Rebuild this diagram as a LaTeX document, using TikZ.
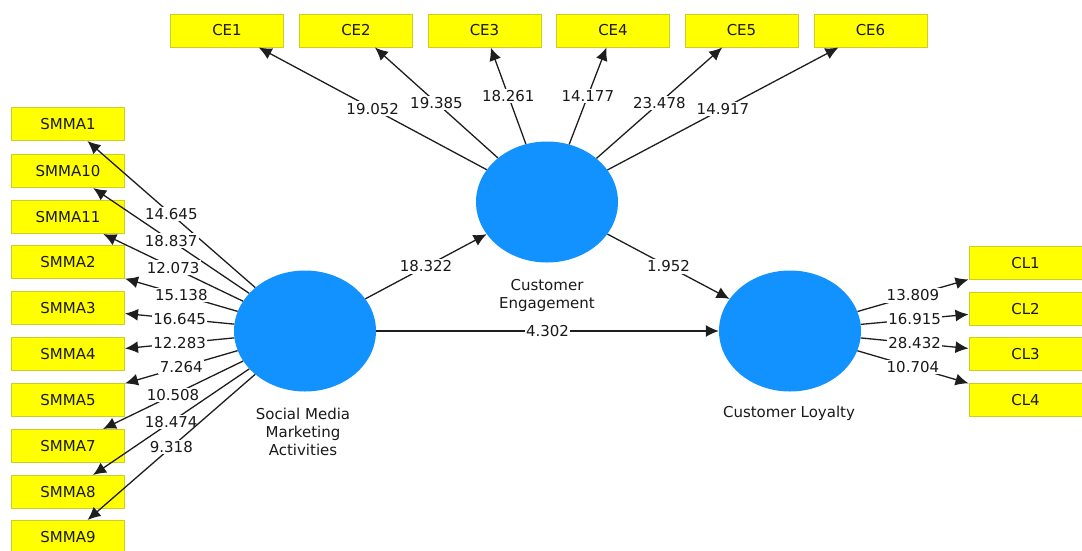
\documentclass[tikz,border=0pt]{standalone}
\usepackage{fontspec}
\setmainfont{DejaVu Sans}
\usepackage{tikz}
\usetikzlibrary{shapes,arrows.meta,positioning,calc}
\definecolor{latent}{RGB}{18,146,255}
\definecolor{itemfill}{RGB}{255,255,0}
\definecolor{itemline}{RGB}{205,205,40}
\definecolor{pathline}{RGB}{30,30,30}
\begin{document}
\begin{tikzpicture}[x=1pt, y=-1pt,
    every node/.style={font=\fontsize{15}{18}\selectfont, text=black!90},
    item/.style={draw=itemline, fill=itemfill, line width=1pt, minimum width=113pt, minimum height=33pt, inner sep=0pt},
    construct/.style={ellipse, fill=latent, minimum width=142pt, minimum height=121pt, inner sep=0pt},
    load/.style={draw=pathline, line width=1.3pt, -{Latex[length=13pt,width=12pt]}},
    coef/.style={midway, fill=white, inner sep=1.5pt}]
    \useasboundingbox (0,0) rectangle (1082,550);
    \node[construct] (SMMA) at (305,331) {};
    \node[construct] (CE) at (547,202) {};
    \node[construct] (CL) at (790,331) {};
    \node[align=center] (SMMAname) at (303,432) {Social Media\\Marketing\\Activities};
    \node[align=center] (CEname) at (547,295) {Customer\\Engagement};
    \node (CLname) at (789,413) {Customer Loyalty};
    \node[item] (SMMA1) at (68,124) {SMMA1};
    \node[item] (SMMA10) at (68,171) {SMMA10};
    \node[item] (SMMA11) at (68,217) {SMMA11};
    \node[item] (SMMA2) at (68,262) {SMMA2};
    \node[item] (SMMA3) at (68,308) {SMMA3};
    \node[item] (SMMA4) at (68,354) {SMMA4};
    \node[item] (SMMA5) at (68,400) {SMMA5};
    \node[item] (SMMA7) at (68,446) {SMMA7};
    \node[item] (SMMA8) at (68,492) {SMMA8};
    \node[item] (SMMA9) at (68,537) {SMMA9};
    \node[item] (CE1) at (227,30.5) {CE1};
    \node[item] (CE2) at (356,30.5) {CE2};
    \node[item] (CE3) at (484.5,30.5) {CE3};
    \node[item] (CE4) at (613,30.5) {CE4};
    \node[item] (CE5) at (741.5,30.5) {CE5};
    \node[item] (CE6) at (870.5,30.5) {CE6};
    \node[item] (CL1) at (1025.5,263) {CL1};
    \node[item] (CL2) at (1025.5,309) {CL2};
    \node[item] (CL3) at (1025.5,354) {CL3};
    \node[item] (CL4) at (1025.5,400) {CL4};
    \draw[load] (SMMA) -- (SMMA1) node[coef] {14.645};
    \draw[load] (SMMA) -- (SMMA10) node[coef] {18.837};
    \draw[load] (SMMA) -- (SMMA11) node[coef] {12.073};
    \draw[load] (SMMA) -- (SMMA2) node[coef] {15.138};
    \draw[load] (SMMA) -- (SMMA3) node[coef] {16.645};
    \draw[load] (SMMA) -- (SMMA4) node[coef] {12.283};
    \draw[load] (SMMA) -- (SMMA5) node[coef] {7.264};
    \draw[load] (SMMA) -- (SMMA7) node[coef] {10.508};
    \draw[load] (SMMA) -- (SMMA8) node[coef] {18.474};
    \draw[load] (SMMA) -- (SMMA9) node[coef] {9.318};
    \draw[load] (CE) -- (CE1) node[coef] {19.052};
    \draw[load] (CE) -- (CE2) node[coef] {19.385};
    \draw[load] (CE) -- (CE3) node[coef] {18.261};
    \draw[load] (CE) -- (CE4) node[coef] {14.177};
    \draw[load] (CE) -- (CE5) node[coef] {23.478};
    \draw[load] (CE) -- (CE6) node[coef] {14.917};
    \draw[load] (CL) -- (CL1) node[coef] {13.809};
    \draw[load] (CL) -- (CL2) node[coef] {16.915};
    \draw[load] (CL) -- (CL3) node[coef] {28.432};
    \draw[load] (CL) -- (CL4) node[coef] {10.704};
    \draw[load] (SMMA) -- (CE) node[coef] {18.322};
    \draw[load] (CE) -- (CL) node[coef] {1.952};
    \draw[load] (SMMA) -- (CL) node[coef] {4.302};
\end{tikzpicture}
\end{document}
